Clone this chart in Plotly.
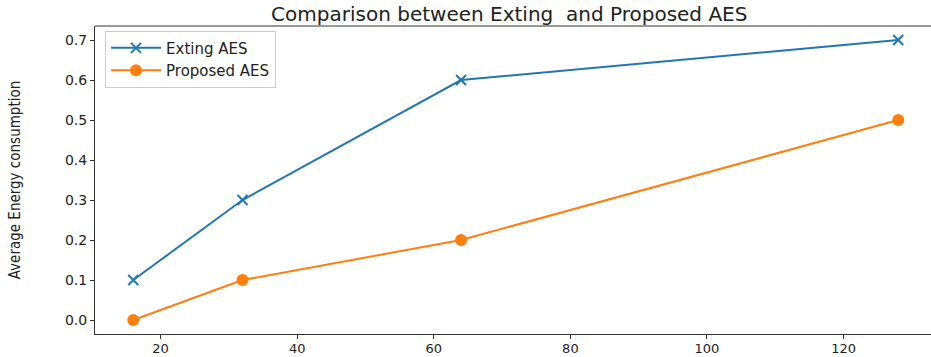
import plotly.graph_objects as go

x_vals = [16, 32, 64, 128]
existing_aes = [0.1, 0.3, 0.6, 0.7]
proposed_aes = [0.0, 0.1, 0.2, 0.5]
x_ticks = [20, 40, 60, 80, 100, 120]
y_ticks = [0.0, 0.1, 0.2, 0.3, 0.4, 0.5, 0.6, 0.7]

fig = go.Figure()
fig.add_trace(go.Scatter(
    x=x_vals, y=existing_aes, mode="lines+markers", name="Exting AES",
    line=dict(color="#1f77b4", width=2),
    marker=dict(symbol="x-thin", size=10, line=dict(color="#1f77b4", width=2), color="#1f77b4"),
))
fig.add_trace(go.Scatter(
    x=x_vals, y=proposed_aes, mode="lines+markers", name="Proposed AES",
    line=dict(color="#ff7f0e", width=2),
    marker=dict(symbol="circle", size=12, color="#ff7f0e"),
))

axis_common = dict(
    showgrid=False, zeroline=False, showline=True, linecolor="#333333", linewidth=1,
    ticks="outside", ticklen=4, tickcolor="#333333", automargin=False,
)

fig.update_layout(
    width=931, height=357,
    margin=dict(l=95, r=0, t=26, b=23),
    plot_bgcolor="white", paper_bgcolor="white",
    title=dict(text="Comparison between Exting  and Proposed AES", x=0.547, xanchor="center",
               y=1 - 14 / 357, yanchor="middle", yref="container",
               font=dict(family="DejaVu Sans", size=20, color="#222222")),
    xaxis=dict(range=[10.4, 132.8], tickvals=x_ticks, mirror=False, ticklabelstandoff=-2,
               tickfont=dict(family="DejaVu Sans", size=13, color="#222222"), **axis_common),
    yaxis=dict(range=[-0.035, 0.735], tickvals=y_ticks, tickformat=".1f",
               tickfont=dict(family="DejaVu Sans", size=14, color="#222222"),
               title=dict(text="Average Energy consumption", standoff=40,
                          font=dict(family="DejaVu Sans Condensed, Liberation Sans Narrow, Roboto Condensed, Roboto, sans-serif",
                                    size=15, color="#222222")),
               **axis_common),
    legend=dict(x=0.012, y=0.985, xanchor="left", yanchor="top",
                bordercolor="#cccccc", borderwidth=1, bgcolor="rgba(255,255,255,0.8)",
                font=dict(family="DejaVu Sans", size=15, color="#222222"),
                itemwidth=50, tracegroupgap=0),
    showlegend=True,
)
fig.add_shape(type="line", xref="paper", yref="paper", x0=0, x1=1, y0=1, y1=1,
              line=dict(color="#333333", width=1))

fig.write_html("out.html", config={"displayModeBar": False},
               post_script="document.body.style.margin='0';document.body.style.overflow='hidden';")
